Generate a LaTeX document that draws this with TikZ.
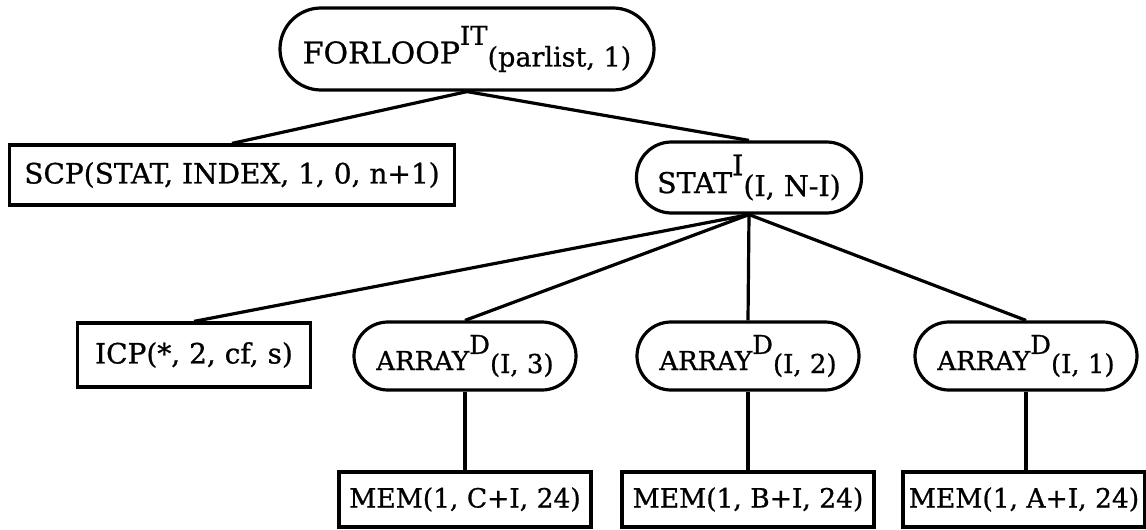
\documentclass[tikz,border=0pt]{standalone}
\usepackage{fontspec}
\setmainfont{DejaVu Serif}[FakeBold=0.8]
\usetikzlibrary{positioning}
\tikzset{leaf/.style={draw,line width=3.2pt,inner sep=0pt,minimum height=64pt,font=\fontsize{28}{32}\selectfont},
 op/.style={leaf,rounded corners=34pt,minimum height=68pt,font=\fontsize{26}{30}\selectfont},
 mem/.style={leaf,minimum width=252pt,minimum height=55pt,font=\fontsize{26.5}{30}\selectfont},
 link/.style={line width=3.2pt}}
% name, raised tag, lowered argument list
\newcommand\opname[3]{#1\raisebox{0.62em}{#2}\raisebox{-3pt}{#3}}

\begin{document}
\begin{tikzpicture}[x=1pt,y=-1pt]
\useasboundingbox (0,0) rectangle (1146,530);

\node[op,minimum width=374pt,minimum height=82pt,rounded corners=41pt,font=\fontsize{30}{34}\selectfont] (forloop) at (467,49)
{\opname{FORLOOP}{\fontsize{26}{30}\selectfont IT}{\fontsize{27}{30}\selectfont(parlist, 1)}};

\node[leaf,minimum width=445pt,minimum height=60pt] (scp) at (232,175) {SCP(STAT, INDEX, 1, 0, n+1)};
\node[op,minimum width=225pt,minimum height=71pt,rounded corners=35pt,font=\fontsize{28.5}{32}\selectfont] (stat) at (749,177.5) {\opname{STAT}{I}{(I, N-I)}};

\node[leaf,minimum width=233pt] (icp) at (194,355) {ICP(*, 2, cf, s)};
\node[op,minimum width=222pt] (arr3) at (465,356) {\opname{ARRAY}{D}{(I, 3)}};
\node[op,minimum width=222pt] (arr2) at (748,356) {\opname{ARRAY}{D}{(I, 2)}};
\node[op,minimum width=222pt] (arr1) at (1026,356) {\opname{ARRAY}{D}{(I, 1)}};

\node[mem] (mem3) at (465,499.5) {MEM(1, C+I, 24)};
\node[mem] (mem2) at (748,499.5) {MEM(1, B+I, 24)};
\node[mem,minimum width=242pt] (mem1) at (1024,499.5) {MEM(1, A+I, 24)};

\draw[link] (forloop.south) -- (scp.north);
\draw[link] (forloop.south) -- (stat.north);
\draw[link] (stat.south) -- (icp.north);
\draw[link] (stat.south) -- (arr3.north);
\draw[link] (stat.south) -- (arr2.north);
\draw[link] (stat.south) -- (arr1.north);
\draw[link] (arr3.south) -- (mem3.north);
\draw[link] (arr2.south) -- (mem2.north);
\draw[link] (arr1.south) -- (arr1.south |- mem1.north);
\end{tikzpicture}
\end{document}
